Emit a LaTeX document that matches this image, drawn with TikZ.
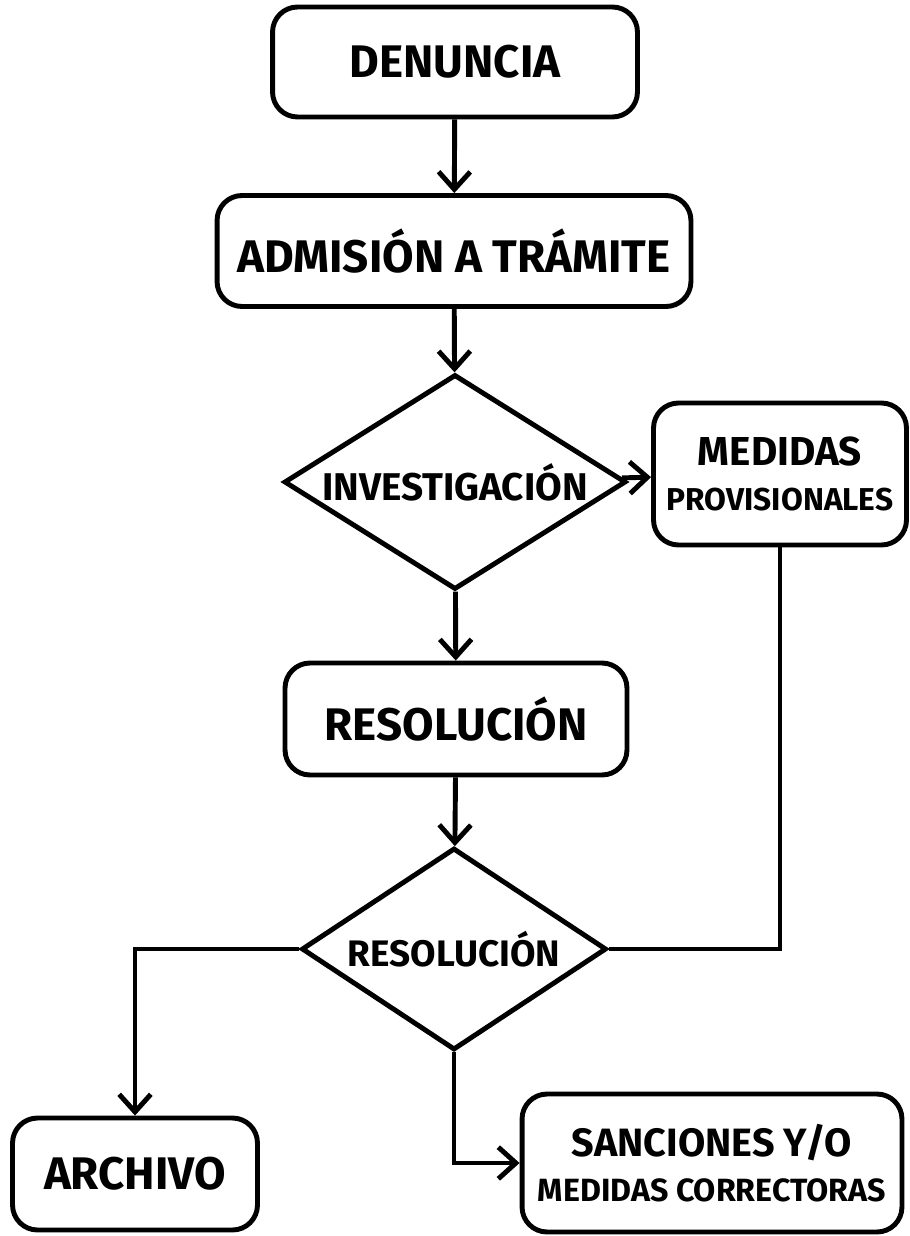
\documentclass[tikz,border=0pt]{standalone}
\usepackage{fontspec}
\newfontfamily\lbl{Fira Sans}
\usetikzlibrary{shapes.geometric, arrows.meta}

\begin{document}
\begin{tikzpicture}[x = 0.02cm, y = -0.02cm, line width = 2.8pt,
  blk/.style = {draw, rounded corners = 0.5cm, align = center, inner sep = 0pt},
  dec/.style = {draw, diamond, aspect = 1.6, inner sep = 0pt},
  arr/.style = {-{Straight Barb[length = 10pt, width = 18pt]}},
  big/.style = {font = \lbl\bfseries\fontsize{26}{30}\selectfont},
  mid/.style = {font = \lbl\bfseries\fontsize{22}{27}\selectfont}]
  \useasboundingbox (0,0) rectangle (909,1236);

  \node[blk, big, minimum width = 7.3cm, minimum height = 2.2cm] (den) at (455,62) {DENUNCIA};
  \node[blk, big, minimum width = 9.48cm, minimum height = 2.22cm] (adm) at (454,251) {ADMISIÓN A TRÁMITE};
  \node[dec, mid, minimum width = 6.84cm, minimum height = 4.3cm] (inv) at (455,482) {INVESTIGACIÓN};
  \node[blk, mid, minimum width = 5.06cm, minimum height = 2.84cm] (med) at (780,474)
    {{\fontsize{23}{28}\selectfont MEDIDAS}\\[-1pt]{\fontsize{18}{22}\selectfont PROVISIONALES}};
  \node[blk, big, minimum width = 6.84cm, minimum height = 2.24cm] (res) at (456,719) {RESOLUCIÓN};
  \node[dec, font = \lbl\bfseries\fontsize{21}{26}\selectfont, minimum width = 6.1cm, minimum height = 4.04cm] (fin) at (454,949) {RESOLUCIÓN};
  \node[blk, big, minimum width = 4.9cm, minimum height = 2.24cm] (arc) at (135,1174) {ARCHIVO};
  \node[blk, mid, minimum width = 7.6cm, minimum height = 2.76cm] (san) at (712,1163)
    {{\fontsize{22.5}{27}\selectfont SANCIONES Y/O}\\[-1pt]{\fontsize{18.3}{22}\selectfont MEDIDAS CORRECTORAS}};

  \draw[arr] (den) -- (adm);
  \draw[arr] (adm) -- (inv);
  \draw[arr] (inv) -- (med);
  \draw[arr] (inv) -- (res);
  \draw[arr] (res) -- (fin);
  \draw (med.south) |- (fin.east);
  \draw[arr] (fin.west) -| (arc.north);
  \draw[arr] (fin.south) |- (san.west);
\end{tikzpicture}
\end{document}
